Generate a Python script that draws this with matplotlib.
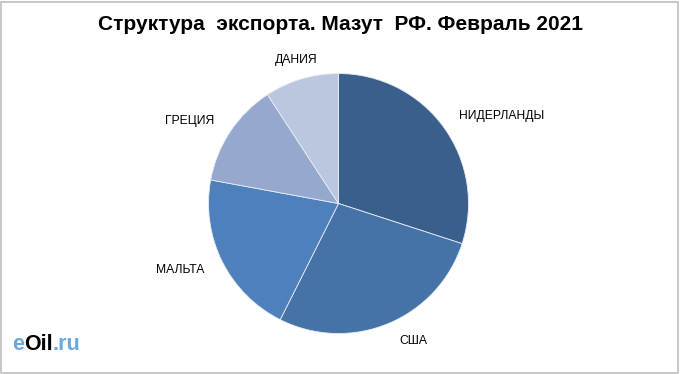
import matplotlib.pyplot as plt
from matplotlib.patches import Rectangle
import numpy as np

# Data
countries = ['НИДЕРЛАНДЫ', 'США', 'МАЛЬТА', 'ГРЕЦИЯ', 'ДАНИЯ']
shares = [30.0, 27.4, 20.5, 12.9, 9.2]
colors = ['#3B5F8D', '#4572A7', '#4E80BC', '#95A9CF', '#BAC7DF']

title = 'Структура  экспорта. Мазут  РФ. Февраль 2021'

plt.rcParams['font.family'] = ['Liberation Sans', 'DejaVu Sans']

fig = plt.figure(figsize=(6.8, 3.74), dpi=100)
ax = fig.add_axes([0.2493, 0.004, 0.497, 0.9037])

wedges, _ = ax.pie(shares, colors=colors, startangle=90, counterclock=False,
                   radius=1.0, wedgeprops=dict(edgecolor='#E8EDF5', linewidth=0.6))
ax.set_xlim(-1.3, 1.3)
ax.set_ylim(-1.3, 1.3)
ax.set_aspect('equal')

# labels outside the slices
for w, name in zip(wedges, countries):
    mid = np.deg2rad((w.theta1 + w.theta2) / 2)
    x, y = 1.15 * np.cos(mid), 1.15 * np.sin(mid)
    if abs(np.cos(mid)) < 0.45:
        ha = 'center'
        if y < 0:
            x = x * 1.3
    elif x > 0:
        ha = 'left'
    else:
        ha = 'right'
    ax.text(x, y, name, ha=ha, va='center', fontsize=8.7, color='black')

fig.text(0.5, 0.935, title, ha='center', va='center', fontsize=15, fontweight='bold')

# logo, pieces placed one after another
fig.canvas.draw()
r = fig.canvas.get_renderer()
x0 = 12 / 680
t = fig.text(x0, 0.078, 'e', color='#6AA8DC', fontsize=15.5, fontweight='bold', va='center')
for part, col in [('Oil', 'black'), ('.ru', '#6AA8DC')]:
    bb = t.get_window_extent(renderer=r)
    t = fig.text(bb.x1 / fig.bbox.width, 0.078, part, color=col, fontsize=15.5,
                 fontweight='bold', va='center')

# outer frame
fig.patches.append(Rectangle((0.002, 0.004), 0.995, 0.99, transform=fig.transFigure,
                             fill=False, edgecolor='#BFBFBF', linewidth=1.2))

fig.savefig('out.png', dpi=100)
